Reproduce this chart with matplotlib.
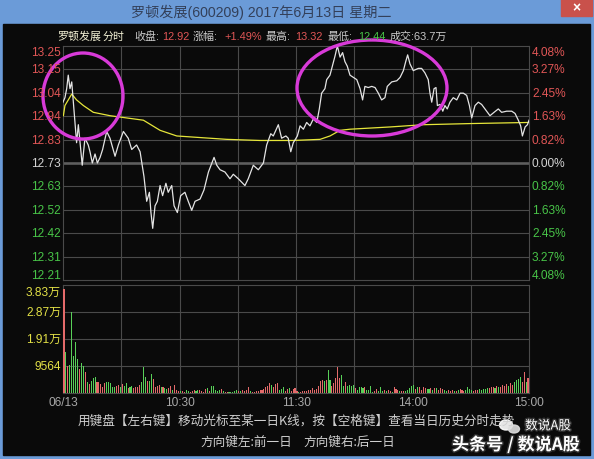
import matplotlib
matplotlib.use('Agg')
import matplotlib.pyplot as plt
from matplotlib.patches import Rectangle, Ellipse
import matplotlib.patheffects as pe

W, H = 594, 460
FONT = ['Liberation Sans', 'Noto Sans CJK SC', 'DejaVu Sans']
CJK = ['Noto Sans CJK SC', 'DejaVu Sans']

# ---------------- data ----------------
prev_close = 12.73
left_labels = ['13.25', '13.15', '13.04', '12.94', '12.83', '12.73',
               '12.63', '12.52', '12.42', '12.31', '12.21']
right_labels = ['4.08%', '3.27%', '2.45%', '1.63%', '0.82%', '0.00%',
                '0.82%', '1.63%', '2.45%', '3.27%', '4.08%']
vol_labels = ['9564', '1.91万', '2.87万', '3.83万']
vol_tick_values = [9564, 19128, 28692, 38256]
time_labels = ['06/13', '10:30', '11:30', '14:00', '15:00']
time_positions = [0, 60, 120, 180, 240]

price_t = [0, 1.0, 1.9, 2.7, 3.6, 4.5, 6.2, 7.0, 7.9, 8.8, 9.9, 11.3, 13.0, 13.9,
           15.1, 16.5, 17.7, 19.1, 20.4, 22.5, 24.2, 26.8, 28.5, 31.1, 33.6, 35.4,
           37.9, 39.7, 41.7, 43.1, 44.5, 45.3, 46.2, 47.4, 48.6, 50.0, 51.3, 53.0,
           54.2, 56.0, 57.2, 58.9, 60.6, 62.8, 64.5, 66.3, 68.0, 70.6, 72.6, 74.9,
           77.8, 79.2, 80.9, 83.4, 86.0, 87.7, 90.3, 93.7, 95.4, 98.0, 100.6, 103.2,
           104.9, 107.0, 108.3, 110.9, 112.6, 114.8, 116.0, 117.3, 118.6, 120.7,
           122.1, 123.8, 125.5, 127.2, 128.9, 130.7, 132.0, 133.2, 134.9, 135.8,
           137.5, 138.4, 140.1, 141.3, 142.7, 144.0, 145.2, 146.4, 147.8, 149.5,
           151.3, 153.0, 154.3, 155.5, 157.2, 159.0, 160.7, 162.4, 164.1, 165.8,
           167.0, 169.3, 171.9, 173.6, 175.3, 176.5, 177.5, 178.7, 180.4, 183.0,
           184.7, 186.4, 188.1, 189.0, 189.9, 191.1, 192.1, 192.8, 194.2, 195.6,
           196.7, 197.9, 199.3, 201.0, 202.8, 204.5, 206.2, 207.9, 209.3, 210.5,
           212.2, 213.9, 215.6, 217.3, 219.9, 222.0, 224.2, 225.9, 228.5, 231.1,
           232.8, 234.5, 235.7, 236.6, 238.0, 239.2, 240]
price_v = [13.00, 13.02, 13.06, 13.12, 13.06, 13.09, 12.91, 12.82, 12.90, 12.82,
           12.72, 12.84, 12.81, 12.78, 12.73, 12.77, 12.73, 12.755, 12.79, 12.87,
           12.84, 12.76, 12.81, 12.87, 12.84, 12.79, 12.81, 12.78, 12.67, 12.56,
           12.60, 12.51, 12.44, 12.54, 12.56, 12.63, 12.585, 12.64, 12.60, 12.63,
           12.54, 12.51, 12.585, 12.60, 12.56, 12.52, 12.56, 12.57, 12.61, 12.69,
           12.755, 12.72, 12.70, 12.69, 12.66, 12.68, 12.66, 12.63, 12.66, 12.72,
           12.70, 12.73, 12.81, 12.86, 12.85, 12.90, 12.84, 12.85, 12.84, 12.78,
           12.82, 12.85, 12.895, 12.88, 12.91, 12.895, 12.925, 12.91, 12.97, 13.04,
           13.06, 13.10, 13.12, 13.15, 13.205, 13.25, 13.20, 13.22, 13.18, 13.16,
           13.12, 13.11, 13.10, 13.06, 13.01, 13.07, 13.065, 13.07, 13.065, 13.04,
           13.01, 13.02, 13.07, 13.09, 13.095, 13.11, 13.14, 13.18, 13.21, 13.17,
           13.14, 13.15, 13.15, 13.13, 13.10, 13.04, 13.00, 13.06, 13.065, 12.985,
           12.99, 12.96, 12.985, 12.97, 13.00, 13.02, 13.01, 13.04, 13.04, 13.03,
           12.985, 12.93, 12.985, 13.00, 12.99, 12.97, 12.94, 12.955, 12.97, 12.955,
           12.96, 12.96, 12.95, 12.92, 12.895, 12.85, 12.89, 12.90, 12.92]

avg_t = [0.2, 1.0, 4.5, 7.0, 10.5, 15.6, 24.2, 32.8, 41.4, 50.0, 58.6, 67.1, 84.3,
         101.5, 118.6, 132.4, 137.5, 142.7, 147.8, 168.4, 185.6, 209.6, 240]
avg_v = [12.94, 12.985, 13.036, 13.01, 12.985, 12.955, 12.94, 12.93, 12.92, 12.875,
         12.85, 12.845, 12.835, 12.83, 12.83, 12.835, 12.85, 12.875, 12.88, 12.89,
         12.90, 12.905, 12.91]

volumes = [
    36800, 14400, 9700, 10000, 28600, 13200, 18200, 12000, 8500, 10600,
    9700, 7300, 3800, 3300, 4300, 5200, 5500, 3800, 3800, 3300,
    2000, 3500, 3800, 3800, 3500, 2000, 2000, 2500, 3000, 2000,
    3200, 2500, 3700, 1600, 2000, 2500, 1800, 2200, 2300, 3000,
    4000, 9300, 5700, 4400, 4300, 6600, 5000, 2300, 2600, 3000,
    2000, 2200, 1600, 1400, 1800, 2500, 1200, 3000, 1000, 700,
    800, 600, 500, 900, 700, 400, 800, 1000, 600, 900,
    1200, 600, 500, 1500, 1800, 600, 2500, 2500, 1200, 800,
    1100, 1300, 600, 400, 500, 400, 300, 400, 800, 1000,
    600, 800, 1200, 700, 900, 2100, 700, 500, 400, 600,
    800, 1000, 1200, 1500, 2200, 2600, 3600, 3000, 2000, 3300,
    3600, 1200, 1500, 2000, 800, 1500, 1800, 700, 1400, 1700,
    800, 500, 400, 600, 700, 800, 1000, 1200, 1800, 1000,
    1500, 2500, 4300, 4600, 4300, 4600, 8000, 4600, 2500, 3500,
    5300, 9200, 5300, 6300, 2400, 4000, 2600, 2800, 2600, 2800,
    1800, 900, 2000, 2200, 1700, 2300, 1200, 900, 2500, 300,
    800, 1400, 800, 2000, 700, 900, 600, 900, 700, 500,
    2300, 1300, 900, 700, 600, 800, 600, 1200, 1600, 2500,
    2800, 1400, 2000, 2000, 1200, 2000, 1800, 1500, 1400, 1800,
    1200, 1900, 1600, 1000, 1600, 1400, 1000, 800, 1200, 700,
    1000, 600, 800, 1100, 1400, 1000, 800, 1200, 2000, 1500,
    1000, 700, 1000, 1200, 1400, 1000, 1300, 1500, 1800, 1600,
    2000, 2300, 1600, 2600, 2000, 2300, 2800, 2400, 3300, 2500,
    3500, 2800, 4000, 4500, 5000, 5500, 4000, 7500, 3800, 5200]
vol_dirs = ("RGRGGGGGRGGRGRGGGRRR" "RRGGGGGRRG" "RGGRGGRRRR" "GGGRGGRRRR"
            "GRGGRRGRRR" "GRRGGRRRGG" "RRRRGRGGGG" "GRGRRGGGGG"
            "RGRRRRGRRR" "RRRRRRRGRR" "RGGGRRGRRR" "RGRRRRRRRR"
            "RRRRGRGGRR" "RRRGGRGGGG" "RGGGGRGGGG" "RRGGGRGRRG"
            "RRRGRRGGGG" "GRGRRRRGGR" "GRGRRRGGRR" "RGRGRRRGGG"
            "GRRRGGGGGR" "RRGRGRRRRG" "RRGGGGRRGR")
vol_dirs = vol_dirs[:240]

RED = '#e05656'
GREEN = '#48c448'
VRED = '#e46a6a'
VGREEN = '#58d058'
GRID = '#4a4a4a'

# ---------------- figure ----------------
fig = plt.figure(figsize=(W / 100, H / 100), dpi=100)
fig.patch.set_facecolor('#6b9bd8')

bg = fig.add_axes([0, 0, 1, 1], zorder=0)
bg.set_xlim(0, W)
bg.set_ylim(H, 0)
bg.axis('off')
bg.add_patch(Rectangle((3, 25), 587, 431, color='#0a0a0a'))
bg.add_patch(Rectangle((561, 0), 31, 17, color='#c9514b'))

# price panel
axp = fig.add_axes([63 / W, 1 - 281 / H, 466 / W, 234 / H], zorder=2)
axp.set_facecolor('none')
step = prev_close * 0.0408 / 5
axp.set_xlim(0, 240)
axp.set_ylim(prev_close - 5 * step, prev_close + 5 * step)
for k in range(-4, 5):
    if k == 0:
        axp.axhline(prev_close, color='#5e5e5e', lw=1.9, zorder=1)
    else:
        axp.axhline(prev_close + k * step, color=GRID, lw=0.8, zorder=1)
for m in range(30, 240, 30):
    axp.axvline(m, color=GRID, lw=0.8, zorder=1)
axp.plot(avg_t, avg_v, color='#e6e63a', lw=0.9, zorder=3)
axp.plot(price_t, price_v, color='#e4e4e4', lw=0.9, zorder=4)
axp.set_xticks([])
axp.set_yticks([])
for s in axp.spines.values():
    s.set_color(GRID)
    s.set_linewidth(0.8)

# volume panel
axv = fig.add_axes([63 / W, 1 - 394 / H, 466 / W, 108 / H], zorder=2)
axv.set_facecolor('none')
axv.set_xlim(0, 240)
axv.set_ylim(0, vol_tick_values[-1])
for v in vol_tick_values[:-1]:
    axv.axhline(v, color=GRID, lw=0.8, zorder=1)
for m in range(30, 240, 30):
    axv.axvline(m, color=GRID, lw=0.8, zorder=1)
bar_x = [i + 0.5 for i in range(len(volumes))]
bar_c = [VRED if d == 'R' else VGREEN for d in vol_dirs]
axv.bar(bar_x, volumes, width=0.55, color=bar_c, zorder=3, linewidth=0)
axv.set_xticks([])
axv.set_yticks([])
for s in axv.spines.values():
    s.set_color(GRID)
    s.set_linewidth(0.8)

# overlay for text / annotations in pixel coordinates
ov = fig.add_axes([0, 0, 1, 1], zorder=5)
ov.set_xlim(0, W)
ov.set_ylim(H, 0)
ov.axis('off')
ov.patch.set_alpha(0)

# title bar
ov.text(261, 12, '罗顿发展(600209) 2017年6月13日 星期二', family=FONT, fontsize=10.2,
        color='#33405a', ha='center', va='center')
ov.text(576, 8, '×', family=FONT, fontsize=10, color='white', ha='center',
        va='center', fontweight='bold')

# header
GRAY = '#c8c8c8'
header = [(57, '罗顿发展', '#f4f2d6'), (103, '分时', '#f4f2d6'),
          (134, '收盘:', GRAY), (162, '12.92', RED),
          (193, '涨幅:', GRAY), (224, '+1.49%', RED),
          (266, '最高:', GRAY), (295, '13.32', RED),
          (328, '最低:', GRAY), (358, '12.44', GREEN),
          (390, '成交:63.7万', GRAY)]
for x, t, c in header:
    ov.text(x, 37, t, family=FONT, fontsize=7.9, color=c, ha='left', va='center')

# price axis labels
for k, (ll, rl) in enumerate(zip(left_labels, right_labels)):
    y = 47 + k * 23.4
    if k == 0:
        y = 53
    if k == 10:
        y = 276
    if k < 5:
        c = RED
    elif k == 5:
        c = '#d4d4d4'
    else:
        c = GREEN
    ov.text(61, y, ll, family=FONT, fontsize=8.6, color=c, ha='right', va='center')
    ov.text(532, y, rl, family=FONT, fontsize=8.6, color=c, ha='left', va='center')

# volume axis labels
for lab, y in zip(vol_labels, [367, 340, 313, 293]):
    ov.text(61, y, lab, family=FONT, fontsize=8.6, color='#e2e046', ha='right', va='center')

# time labels
for lab, m in zip(time_labels, time_positions):
    ov.text(63 + m * 466 / 240, 403, lab, family=FONT, fontsize=8.6, color='#a8a8a8',
            ha='center', va='center')

# bottom help text
ov.text(296, 421, '用键盘【左右键】移动光标至某一日K线，按【空格键】查看当日历史分时走势',
        family=CJK, fontsize=9.1, color='#cfcfcf', ha='center', va='center')
ov.text(200, 442, '方向键左:前一日', family=CJK, fontsize=9.1, color='#cfcfcf',
        ha='left', va='center')
ov.text(303, 442, '方向键右:后一日', family=CJK, fontsize=9.1, color='#cfcfcf',
        ha='left', va='center')

# magenta annotation ellipses
ov.add_patch(Ellipse((83, 97), 80, 86, fill=False, edgecolor='#d83ad8', lw=2.4))
ov.add_patch(Ellipse((372, 89), 150, 96, fill=False, edgecolor='#d83ad8', lw=2.4))

# watermark
shadow = [pe.withStroke(linewidth=2, foreground='#303030')]
ov.add_patch(Ellipse((506, 426), 13, 10, color='white', alpha=0.9))
ov.add_patch(Ellipse((514, 430), 11, 8, color='#dddddd', alpha=0.9))
ov.text(525, 427, '数说A股', family=CJK, fontsize=9.2, color='white', ha='left',
        va='center', path_effects=shadow)
ov.text(452, 446, '头条号 / 数说A股', family=CJK, fontsize=12.3, color='white',
        ha='left', va='center', fontweight='bold', path_effects=shadow)

fig.savefig('out.png', dpi=100, facecolor=fig.get_facecolor())
